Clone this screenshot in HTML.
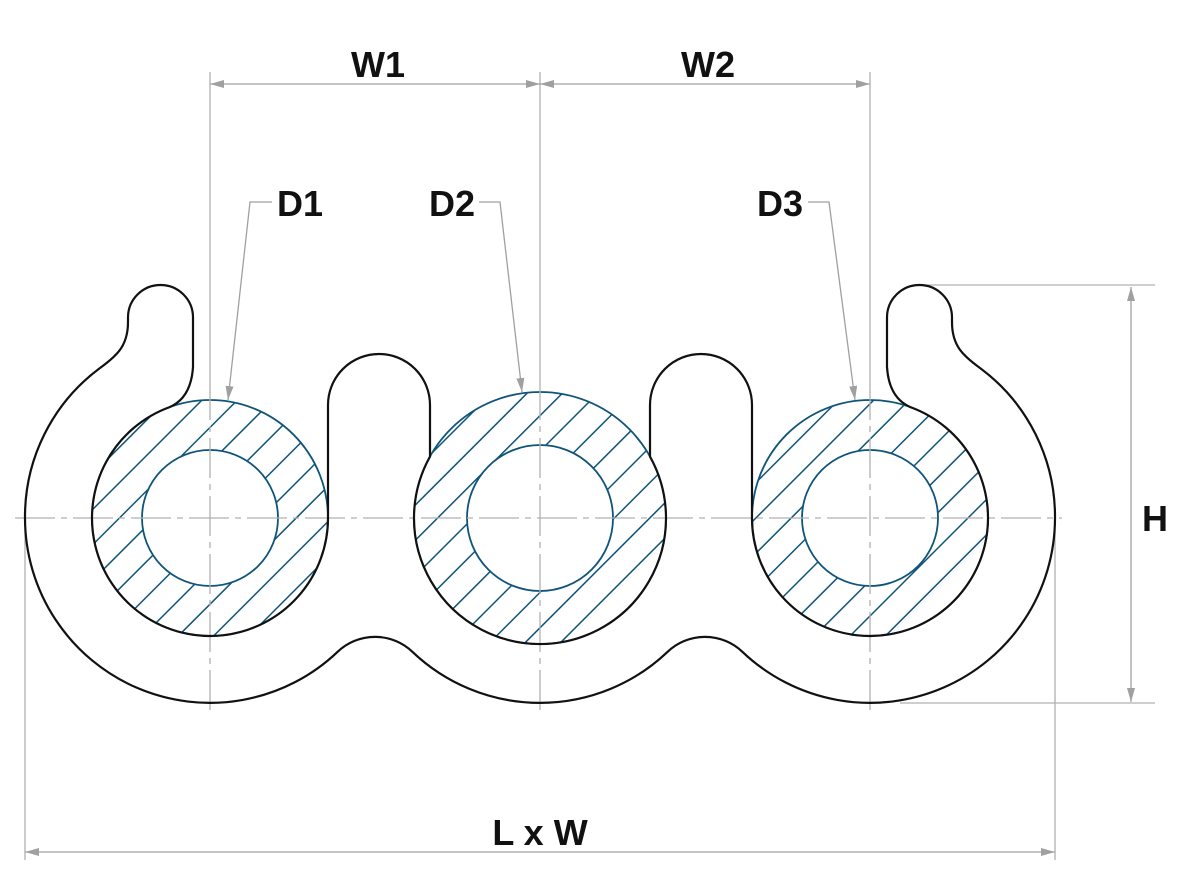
<!DOCTYPE html>
<html><head><meta charset="utf-8"><style>html,body{margin:0;padding:0;background:#fff}svg{display:block}</style></head>
<body>
<svg width="1200" height="880" viewBox="0 0 1200 880" xmlns="http://www.w3.org/2000/svg">
<defs>
<pattern id="h" patternUnits="userSpaceOnUse" width="25" height="25" patternTransform="rotate(-45)">
<line x1="0" y1="0" x2="25" y2="0" stroke="#0f5479" stroke-width="3"/>
</pattern>
<marker id="a" viewBox="0 0 14 8" refX="14" refY="4" markerWidth="14" markerHeight="8" markerUnits="userSpaceOnUse" orient="auto-start-reverse"><path d="M0,0 L14,4 L0,8 Z" fill="#a0a0a0"/></marker>
</defs>
<g fill="url(#h)" fill-rule="evenodd">
<path d="M92,518 a118,118 0 1,0 236,0 a118,118 0 1,0 -236,0 Z M142,518 a68,68 0 1,0 136,0 a68,68 0 1,0 -136,0 Z"/>
<path d="M414,518 a126,126 0 1,0 252,0 a126,126 0 1,0 -252,0 Z M467,518 a73,73 0 1,0 146,0 a73,73 0 1,0 -146,0 Z"/>
<path d="M752,518 a118,118 0 1,0 236,0 a118,118 0 1,0 -236,0 Z M802,518 a68,68 0 1,0 136,0 a68,68 0 1,0 -136,0 Z"/>
</g>
<g fill="none" stroke="#0f5479" stroke-width="1.8">
<circle cx="210" cy="518" r="118"/><circle cx="210" cy="518" r="68"/>
<circle cx="540" cy="518" r="126"/><circle cx="540" cy="518" r="73"/>
<circle cx="870" cy="518" r="118"/><circle cx="870" cy="518" r="68"/>
</g>
<g stroke="#b0b0b0" stroke-width="1.3" fill="none">
<line x1="15" y1="518" x2="1062" y2="518" stroke-dasharray="40,6,6,6"/>
<line x1="210" y1="72" x2="210" y2="380"/><line x1="210" y1="380" x2="210" y2="712" stroke-dasharray="40,6,6,6"/>
<line x1="540" y1="72" x2="540" y2="380"/><line x1="540" y1="380" x2="540" y2="712" stroke-dasharray="40,6,6,6"/>
<line x1="870" y1="72" x2="870" y2="380"/><line x1="870" y1="380" x2="870" y2="712" stroke-dasharray="40,6,6,6"/>
<line x1="25" y1="530" x2="25" y2="860"/><line x1="1055" y1="530" x2="1055" y2="860"/>
<line x1="925" y1="285" x2="1155" y2="285"/><line x1="900" y1="703" x2="1155" y2="703"/>
</g>
<path fill="none" stroke="#111" stroke-width="2.2" d="M193,367 Q191,398 169.6,407.1 A118,118 0 1,0 328,518 L328,405 A51,51 0 0,1 430,405 L430,456.6 A126,126 0 1,0 650,456.6 L650,405 A51,51 0 0,1 752,405 L752,518 A118,118 0 1,0 910.4,407.1 Q889,398 887,367 L887,317.5 A32.5,32.5 0 0,1 952,317.5 L952,322 C952,345 962,355 980,368 A185,185 0 0,1 1055,518 A185,185 0 0,1 742.4,651.8 A54.25,54.25 0 0,0 667.6,651.8 A185,185 0 0,1 412.4,651.8 A54.25,54.25 0 0,0 337.6,651.8 A185,185 0 0,1 25,518 A185,185 0 0,1 100,368 C118,355 128,345 128,322 L128,317.5 A32.5,32.5 0 0,1 193,317.5 Z"/>
<g stroke="#a0a0a0" stroke-width="1.3" fill="none">
<line x1="210" y1="84" x2="540" y2="84" marker-start="url(#a)" marker-end="url(#a)"/>
<line x1="540" y1="84" x2="870" y2="84" marker-start="url(#a)" marker-end="url(#a)"/>
<line x1="1131" y1="287" x2="1131" y2="702" marker-start="url(#a)" marker-end="url(#a)"/>
<line x1="25" y1="852" x2="1055" y2="852" marker-start="url(#a)" marker-end="url(#a)"/>
<polyline points="272,202 250,202 228,400" marker-end="url(#a)"/>
<polyline points="479,202 500,202 522,392" marker-end="url(#a)"/>
<polyline points="808,202 829,202 855,400" marker-end="url(#a)"/>
</g>
<g font-family="Liberation Sans, sans-serif" font-size="36" font-weight="bold" fill="#111">
<text x="378" y="77" text-anchor="middle">W1</text>
<text x="708" y="77" text-anchor="middle">W2</text>
<text x="300" y="216" text-anchor="middle">D1</text>
<text x="452" y="216" text-anchor="middle">D2</text>
<text x="780" y="216" text-anchor="middle">D3</text>
<text x="1155" y="531" text-anchor="middle">H</text>
<text x="540" y="845" text-anchor="middle">L x W</text>
</g>
</svg>
</body></html>
